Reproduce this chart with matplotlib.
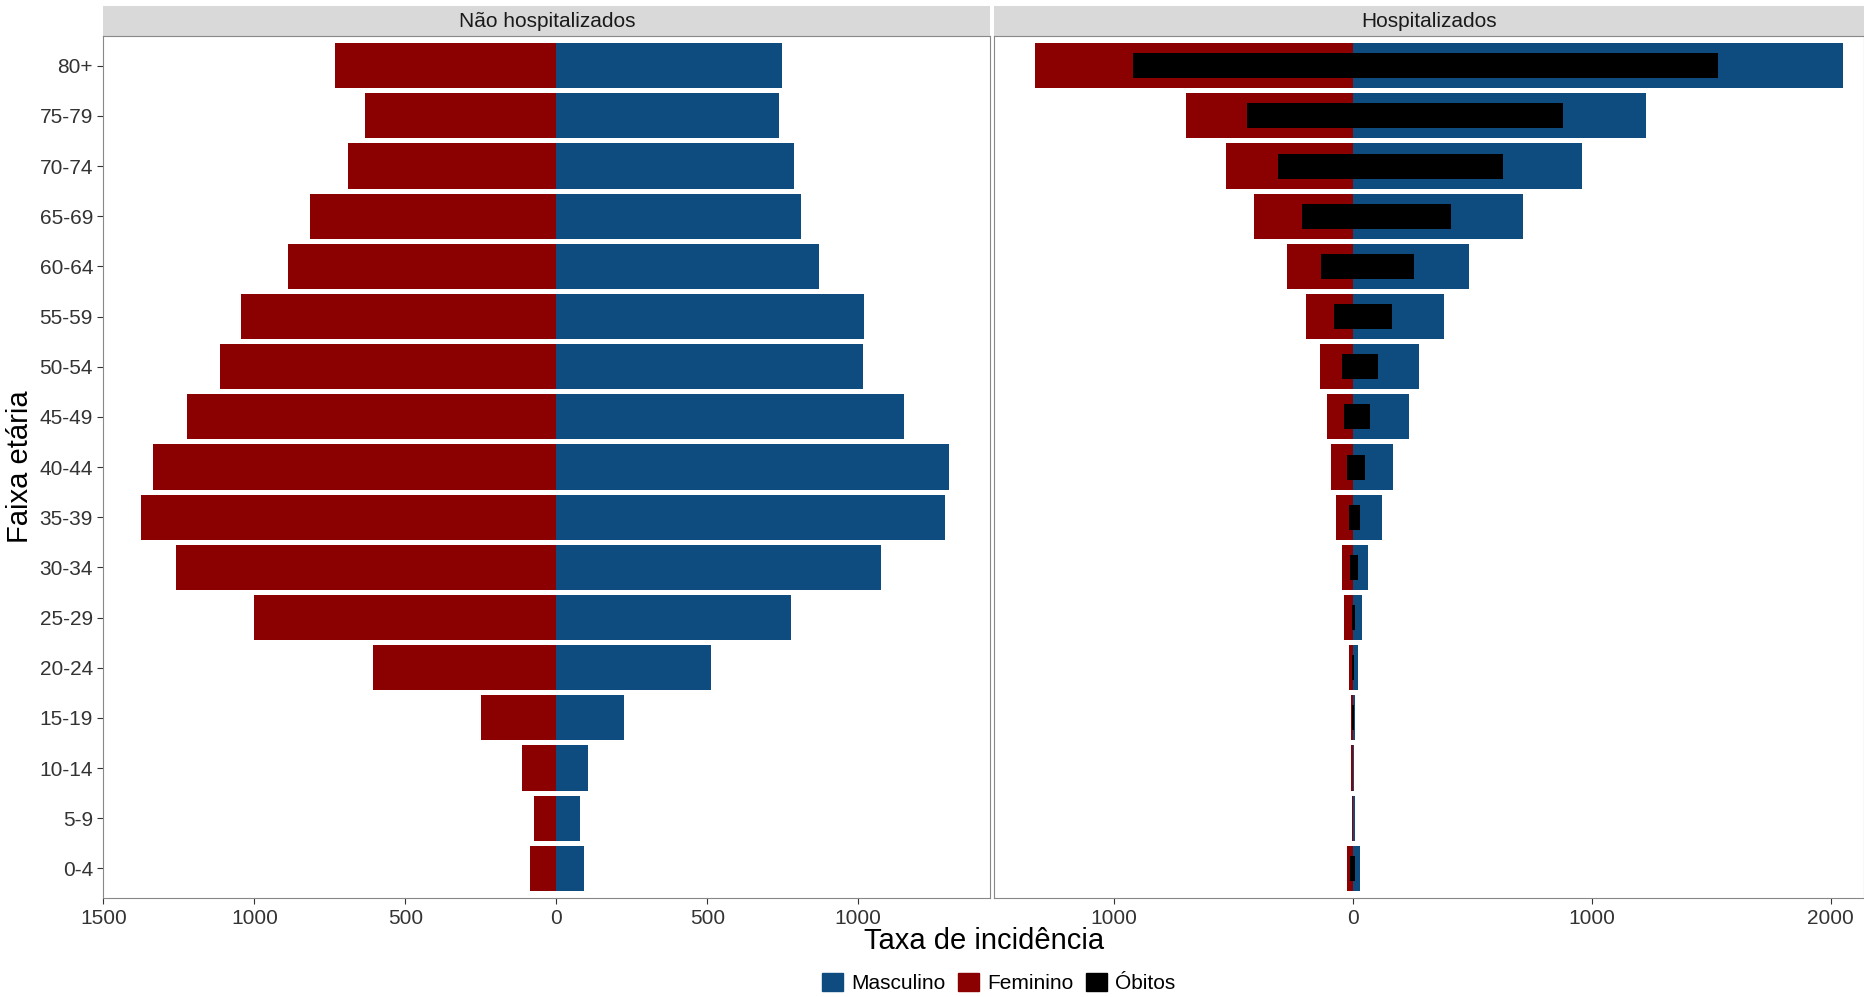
import matplotlib
matplotlib.use("Agg")
import matplotlib.pyplot as plt
import numpy as np
from matplotlib.patches import Patch
plt.rcParams['font.family'] = ['Liberation Sans', 'DejaVu Sans']

ages = ["0-4","5-9","10-14","15-19","20-24","25-29","30-34","35-39","40-44","45-49","50-54","55-59","60-64","65-69","70-74","75-79","80+"]
nh_fem = [87,75,114,248,606,1000,1260,1374,1335,1224,1114,1043,890,815,689,634,732]
nh_mas = [91,79,106,224,512,776,1075,1287,1299,1150,1016,1020,870,811,787,736,748]
h_fem = [25,5,8,8,15,35,45,70,90,109,139,194,274,413,532,697,1330]
h_mas = [30,10,5,10,20,40,65,124,169,234,279,383,488,711,960,1229,2050]
ob_fem = [10,1,1,2,3,5,10,15,25,35,45,80,134,214,313,443,920]
ob_mas = [10,2,1,3,5,10,20,30,50,70,104,164,254,413,627,881,1527]

MAS = "#0E4B7F"; FEM = "#8B0000"; OB = "#000000"
fig = plt.figure(figsize=(18.64, 9.97), dpi=100)
W, H = 1568, 840
def ax_at(x0, x1, y0, y1):
    return fig.add_axes([x0/W, 1-y1/H, (x1-x0)/W, (y1-y0)/H])
ax1 = ax_at(87, 833, 30, 757)
ax2 = ax_at(836, 1568, 30, 757)
y = np.arange(len(ages))
ax1.barh(y, -np.array(nh_fem), height=0.9, color=FEM)
ax1.barh(y, nh_mas, height=0.9, color=MAS)
ax2.barh(y, -np.array(h_fem), height=0.9, color=FEM)
ax2.barh(y, h_mas, height=0.9, color=MAS)
ax2.barh(y, -np.array(ob_fem), height=0.5, color=OB)
ax2.barh(y, ob_mas, height=0.5, color=OB)
ax1.set_xlim(-1500, 1437)
ax2.set_xlim(-1503, 2140)
for ax, title in [(ax1, "Não hospitalizados"), (ax2, "Hospitalizados")]:
    ax.set_ylim(-0.6, 16.6)
    for s in ax.spines.values():
        s.set_color("#888888"); s.set_linewidth(0.8)
    ax.tick_params(labelsize=15, colors="#333333", length=4)
    ax.text(0.5, 1.0 + 12/727, title, transform=ax.transAxes, ha="center", va="center", fontsize=15, color="#1a1a1a")
    strip = plt.Rectangle((0, 1.0), 1, 25/727, transform=ax.transAxes, clip_on=False, fc="#D9D9D9", ec="none")
    ax.add_patch(strip)
ax1.set_xticks([-1500,-1000,-500,0,500,1000]); ax1.set_xticklabels(["1500","1000","500","0","500","1000"])
ax2.set_xticks([-1000,0,1000,2000]); ax2.set_xticklabels(["1000","0","1000","2000"])
ax1.set_yticks(y); ax1.set_yticklabels(ages)
ax2.set_yticks([])
ax1.set_ylabel("Faixa etária", fontsize=21)
fig.text((87+1568)/2/W, 1-793/H, "Taxa de incidência", ha="center", va="center", fontsize=21)
handles = [Patch(color=MAS, label="Masculino"), Patch(color=FEM, label="Feminino"), Patch(color=OB, label="Óbitos")]
fig.legend(handles=handles, loc="center", bbox_to_anchor=(840/W, 1-828/H), ncol=3, frameon=False, fontsize=15,
           handlelength=1.0, handleheight=1.0, columnspacing=0.6, handletextpad=0.4)
fig.savefig("out.png", dpi=100)
